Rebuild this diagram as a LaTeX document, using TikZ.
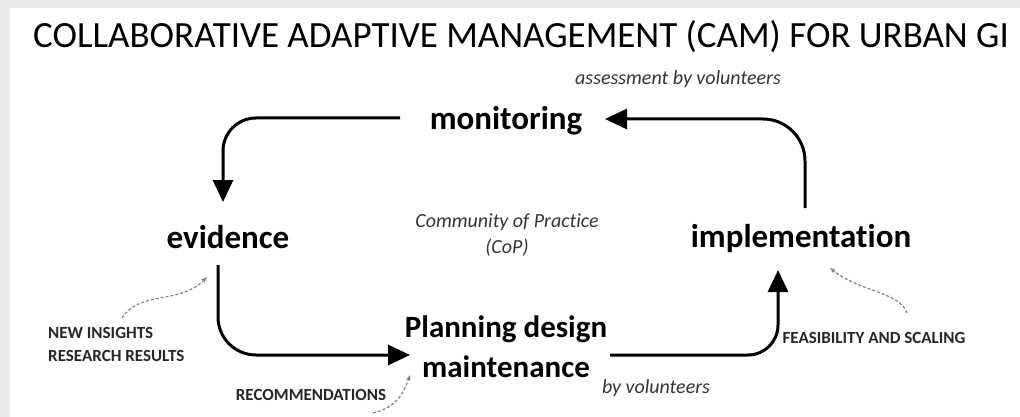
\documentclass[tikz,border=0pt]{standalone}
\usepackage{fontspec}
\setmainfont{Carlito}[Ligatures=NoCommon]
\usetikzlibrary{arrows.meta,positioning}

\begin{document}
\begin{tikzpicture}[x=1pt,y=1pt,node distance=8pt]
\tikzstyle{stage}=[font=\fontsize{33}{40}\selectfont\bfseries,inner sep=0pt,anchor=base]
\tikzstyle{note}=[font=\fontsize{20}{26}\selectfont\itshape,text=black!80,inner sep=0pt,align=center]
\tikzstyle{caps}=[font=\fontsize{17}{23}\selectfont\bfseries,text=black!85,inner sep=0pt,align=left]
\tikzstyle{cycle}=[line width=3pt,-{Triangle[length=22pt,width=20pt]}]
\tikzstyle{pointer}=[black!50,densely dashed,line width=1.2pt,-{Stealth[length=6pt]}]

\fill[black!9] (0,0) rectangle (1020,-417);
\fill[white] (10,-8) rectangle (1020,-417);
\useasboundingbox (0,0) rectangle (1020,-417);

\node[font=\fontsize{37}{40}\selectfont,inner sep=0pt] (title) at (521,-37) {COLLABORATIVE ADAPTIVE MANAGEMENT (CAM) FOR URBAN GI};

\node[stage] (monitoring) at (506,-130) {monitoring};
\node[stage] (evidence) at (228,-248) {evidence};
\node[stage] (implementation) at (801,-247) {implementation};
\node[stage,font=\fontsize{31}{40}\selectfont\bfseries] (planning) at (506,-337) {Planning design};
\node[stage,font=\fontsize{31}{40}\selectfont\bfseries] (maintenance) [below=40pt of planning.base,anchor=base] {maintenance};

\node[note,anchor=base west] (assessment) at (575,-85) {assessment by volunteers};
\node[note] (community) at (507,-235) {Community of Practice\\(CoP)};
\node[note,anchor=base] (byvol) at (656,-393) {by volunteers};

\node[caps,anchor=west] (insights) at (48,-344) {NEW INSIGHTS\\RESEARCH RESULTS};
\node[caps,anchor=base] (recommendations) at (311,-400) {RECOMMENDATIONS};
\node[caps,anchor=base] (feasibility) at (874,-343) {FEASIBILITY AND SCALING};

% main cycle
\draw[cycle,rounded corners=42pt] ([xshift=4pt,yshift=39pt]implementation.base) |- ([xshift=99pt,yshift=11pt]monitoring.base);
\draw[cycle,rounded corners=33pt] ([xshift=-106pt,yshift=12pt]monitoring.base) -| ([xshift=-5pt,yshift=46pt]evidence.base);
\draw[cycle,rounded corners=38pt] ([xshift=-10pt,yshift=-17pt]evidence.base) |- ([xshift=-96pt,yshift=-18pt]planning.base);
\draw[cycle,rounded corners=30pt] ([xshift=104pt,yshift=-18pt]planning.base) -| ([xshift=-23pt,yshift=-23pt]implementation.base);

% pointers
\draw[pointer] ([xshift=74pt,yshift=26pt]insights.west) .. controls +(18,28) and +(-27,-28) .. ([xshift=-21pt,yshift=-29pt]evidence.base);
\draw[pointer] ([xshift=62pt,yshift=-13pt]recommendations.base) .. controls +(22,5) and +(-7,-20) .. ([xshift=-96pt,yshift=-38pt]planning.base);
\draw[pointer] ([xshift=33pt,yshift=30pt]feasibility.base) .. controls +(-7,21) and +(30,-24) .. ([xshift=29pt,yshift=-21pt]implementation.base);
\end{tikzpicture}
\end{document}
